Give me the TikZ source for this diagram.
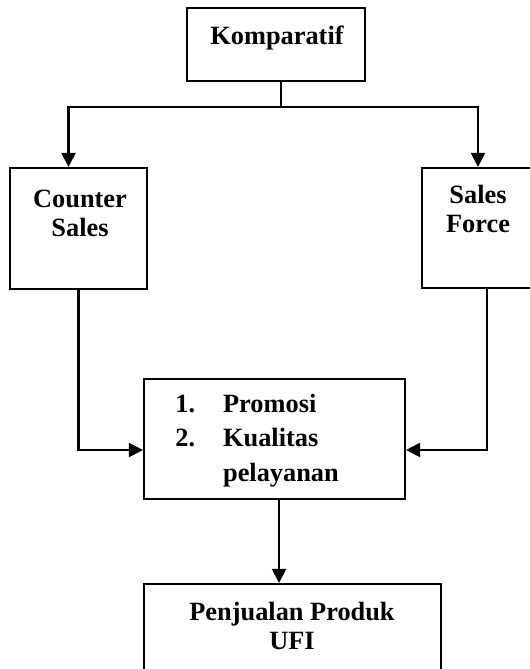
\documentclass[tikz,border=0pt]{standalone}
\usepackage{fontspec}
\setmainfont{Liberation Serif}
\usepackage{tikz}
\usetikzlibrary{positioning,fit,arrows.meta}

\begin{document}
\begin{tikzpicture}[x=0.02cm,y=-0.02cm,
  box/.style={draw, line width=1.2pt, inner sep=0pt},
  txt/.style={font=\fontsize{15}{17}\selectfont\bfseries, inner sep=0pt, anchor=base},
  link/.style={line width=1.15pt},
  arr/.style={link, -{Triangle[length=2.8mm,width=2.8mm]}}]
\useasboundingbox (0,0) rectangle (529,669);

\foreach \name/\xa/\ya/\xb/\yb in {
  komp/187/8/365/81, counter/10/168/147/289, sales/422/168/534/288,
  mid/144/379/405/499, out/144/584/441/690}
  \node[box, fit={(\xa,\ya) (\xb,\yb)}] (\name) {};

\node[txt] (kompT) at (277,45) {Komparatif};
\node[txt] (counterT) at (80,207) {\begin{tabular}[t]{@{}c@{}}Counter\\Sales\end{tabular}};
\node[txt] (salesT) at (478,203) {\begin{tabular}[t]{@{}c@{}}Sales\\Force\end{tabular}};
\node[txt, anchor=base west, font=\fontsize{15}{19.8}\selectfont\bfseries] (midT) at (175,412)
  {\begin{tabular}[t]{@{}l@{\hspace{0.56cm}}l@{}}1.&Promosi\\2.&Kualitas\\&pelayanan\end{tabular}};
\node[txt] (outT) at (292,620) {\begin{tabular}[t]{@{}c@{}}Penjualan Produk\\UFI\end{tabular}};

\coordinate (split) at (281,107);
\draw[link] (komp.south -| split) -- (split);
\draw[arr] (split) -| ([xshift=-0.2cm]counter.north);
\draw[arr] (split) -| (sales.north);
\draw[arr] (counter.south) |- ([yshift=-0.22cm]mid.west);
\draw[arr] ([xshift=0.18cm]sales.south) |- ([yshift=-0.22cm]mid.east);
\coordinate (down) at ([xshift=0.09cm]mid.south);
\draw[arr] (down) -- (down |- out.north);
\end{tikzpicture}
\end{document}
